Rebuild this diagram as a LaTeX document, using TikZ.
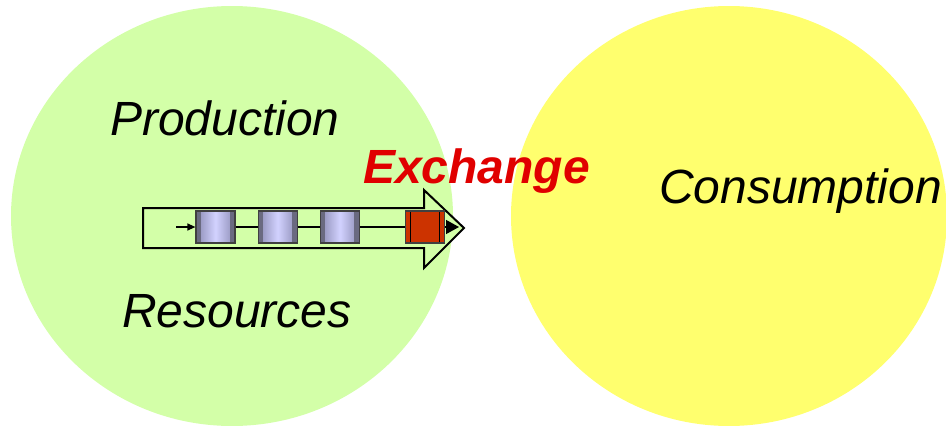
\documentclass[tikz,border=0pt]{standalone}
\usepackage{fontspec}
\setmainfont{Liberation Sans}
\usepackage{xcolor}
\usetikzlibrary{arrows.meta,positioning,shapes.geometric}

\definecolor{prodgreen}{HTML}{D3FFA8}
\definecolor{consyellow}{HTML}{FFFF6E}
\definecolor{exred}{HTML}{E00000}
\definecolor{qlight}{HTML}{D2D2FF}
\definecolor{qdark}{HTML}{8C8CB4}
\definecolor{qbar}{HTML}{6A6A80}
\definecolor{qred}{HTML}{CC3300}

\begin{document}
\begin{tikzpicture}[
    x=1pt, y=-1pt,
    node distance=22pt,
    field/.style={ellipse, inner sep=0, draw=none},
    word/.style={inner sep=0, anchor=base west, font=\fontsize{48}{52}\selectfont\itshape},
    qbox/.style={rectangle, minimum width=39pt, minimum height=32pt, inner sep=0,
        draw=black!75, line width=1.2pt},
    item/.style={qbox, left color=qdark, right color=qdark, middle color=qlight,
        path picture={
            \fill[qbar] (path picture bounding box.north west) rectangle ([xshift=5pt]path picture bounding box.south west);
            \fill[qbar] (path picture bounding box.north east) rectangle ([xshift=-5pt]path picture bounding box.south east);
        }},
    hot/.style={qbox, fill=qred,
        path picture={
            \draw[black, line width=1pt] ([xshift=5pt]path picture bounding box.north west) -- ([xshift=5pt]path picture bounding box.south west);
            \draw[black, line width=1pt] ([xshift=-5pt]path picture bounding box.north east) -- ([xshift=-5pt]path picture bounding box.south east);
        }},
    link/.style={line width=1.3pt},
]
\useasboundingbox (0,0) rectangle (946,426);
\clip (0,0) rectangle (946,426);

% the two fields
\node[field, fill=prodgreen, minimum width=442pt, minimum height=420pt] (prod) at (232,216) {};
\node[field, fill=consyellow, minimum width=436pt, minimum height=420pt] (cons) at (729,216) {};

% big block arrow
\draw[line width=2pt, fill=prodgreen, line join=miter]
    (143,208) -- (424,208) -- (424,190) -- (464,228) -- (424,268) -- (424,248) -- (143,248) -- cycle;

% queue
\node[item] (q1) at (215.5,227) {};
\node[item, right=of q1] (q2) {};
\node[item, right=of q2] (q3) {};
\node[hot, right=45pt of q3] (qx) {};
\coordinate (qin) at (176,227);
\coordinate (qout) at (459,227);

\draw[link, -{Triangle[length=8pt,width=7pt]}] (qin) -- (q1);
\draw[link] (q1) -- (q2);
\draw[link] (q2) -- (q3);
\draw[link] (q3) -- (qx);
\draw[link, -{Triangle[length=13pt,width=14pt]}] (qx) -- (qout);

% labels
\node[word] (lprod) at (110,135) {Production};
\node[word] (lres) at (122,327) {Resources};
\node[word] (lcons) at (659,203) {Consumption};
\node[word, font=\fontsize{48}{52}\selectfont\bfseries\itshape, text=exred] (lex) at (363,183) {Exchange};
\end{tikzpicture}
\end{document}
